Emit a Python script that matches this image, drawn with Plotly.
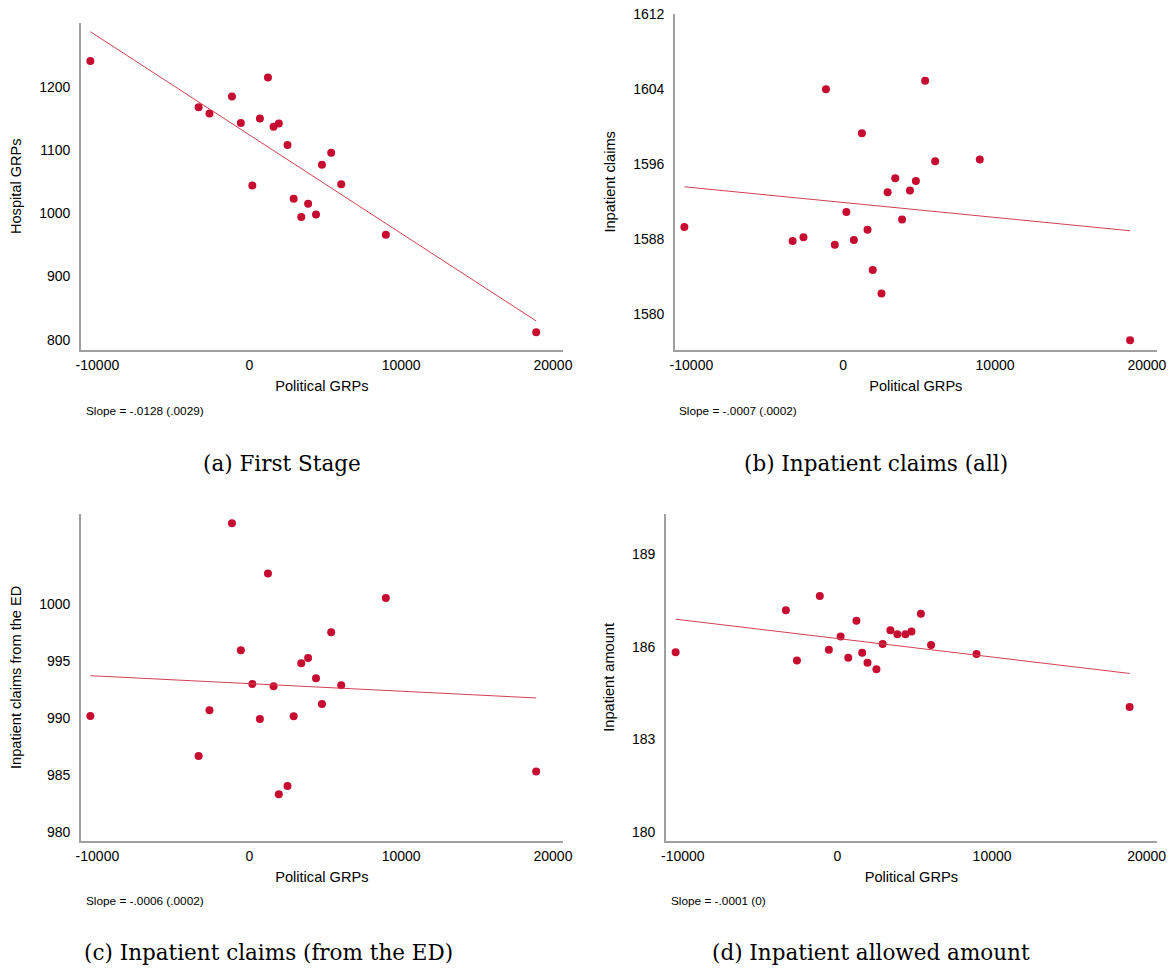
import plotly.graph_objects as go

# ---- data ----
political_grps = [-10465, -3335, -2620, -1140, -555, 205, 700, 1230, 1600, 1945,
                  2520, 2925, 3425, 3875, 4395, 4785, 5395, 6055, 8995, 18895]

hospital_grps = [1241, 1168, 1158, 1185, 1143, 1044, 1150, 1215, 1137, 1142,
                 1108, 1023, 994, 1015, 998, 1077, 1096, 1046, 966, 812]
inpatient_claims = [1589.3, 1587.8, 1588.2, 1604.0, 1587.4, 1590.9, 1587.9, 1599.3, 1589.0, 1584.7,
                    1582.2, 1593.0, 1594.5, 1590.1, 1593.2, 1594.2, 1604.9, 1596.3, 1596.5, 1577.2]
inpatient_claims_ed = [990.16, 986.66, 990.66, 1007.04, 995.91, 992.96, 989.90, 1002.63, 992.76, 983.30,
                       984.03, 990.13, 994.77, 995.24, 993.46, 991.21, 997.49, 992.85, 1000.50, 985.31]
inpatient_amount = [185.82, 187.18, 185.55, 187.64, 185.90, 186.33, 185.64, 186.84, 185.80, 185.48,
                    185.27, 186.09, 186.53, 186.40, 186.40, 186.49, 187.07, 186.05, 185.76, 184.04]

fit_intercepts = [1124.2, 1591.91, 992.995, 186.263]
fit_slopes = [-0.015589, -0.0001597, -0.0000664, -0.00005994]

y_titles = ["Hospital GRPs", "Inpatient claims", "Inpatient claims from the ED", "Inpatient amount"]
slope_labels = ["Slope = -.0128 (.0029)", "Slope = -.0007 (.0002)",
                "Slope = -.0006 (.0002)", "Slope = -.0001 (0)"]
captions = ["(a) First Stage", "(b) Inpatient claims (all)",
            "(c) Inpatient claims (from the ED)", "(d) Inpatient allowed amount"]
x_title = "Political GRPs"
x_ticks = [-10000, 0, 10000, 20000]
y_ticks = [[800, 900, 1000, 1100, 1200],
           [1580, 1588, 1596, 1604, 1612],
           [980, 985, 990, 995, 1000],
           [180, 183, 186, 189]]
y_ranges = [[784.2, 1301.6], [1576.2, 1612.02], [979.24, 1007.85], [179.71, 190.30]]
x_range = [-11075, 20635]

series = [hospital_grps, inpatient_claims, inpatient_claims_ed, inpatient_amount]

# ---- layout geometry (pixels) ----
W, H = 1172, 970
px_x = [(81.1, 562.6), (675.1, 1156.5), (81.1, 562.6), (666.2, 1156.5)]
px_y = [(22.7, 349.7), (14.0, 349.7), (514.0, 840.7), (514.0, 840.7)]
caption_pos = [(282, 463), (876, 463), (268, 952), (871, 952)]
slope_pos = [(83.5, 410.7), (677.4, 410.7), (83.5, 901), (668.5, 901)]

MARKER = "#C60C30"
LINE = "#D04050"
AXIS = "#A0A0A0"
TICKFONT = dict(family="Liberation Sans, Arial, sans-serif", size=14, color="#000000")
TITLEFONT = dict(family="Liberation Sans, Arial, sans-serif", size=14.6, color="#000000")

fig = go.Figure()
annotations = []
for i in range(4):
    sfx = "" if i == 0 else str(i + 1)
    xa, ya = "x" + sfx, "y" + sfx
    fig.add_trace(go.Scatter(x=political_grps, y=series[i], mode="markers",
                             marker=dict(color=MARKER, size=8, line=dict(width=0)),
                             xaxis=xa, yaxis=ya, showlegend=False, hoverinfo="x+y"))
    x0, x1 = min(political_grps), max(political_grps)
    fig.add_trace(go.Scatter(x=[x0, x1],
                             y=[fit_intercepts[i] + fit_slopes[i] * x0, fit_intercepts[i] + fit_slopes[i] * x1],
                             mode="lines", line=dict(color=LINE, width=1),
                             xaxis=xa, yaxis=ya, showlegend=False, hoverinfo="skip"))
    xd = [px_x[i][0] / W, px_x[i][1] / W]
    yd = [1 - px_y[i][1] / H, 1 - px_y[i][0] / H]
    fig.layout["xaxis" + sfx] = dict(
        domain=xd, range=x_range, tickvals=x_ticks, ticktext=[str(v) for v in x_ticks],
        showline=True, linecolor=AXIS, linewidth=2, showgrid=False, zeroline=False,
        ticks="", tickfont=TICKFONT, anchor=ya, ticklabelstandoff=1, automargin=False,
        title=dict(text=x_title, font=TITLEFONT, standoff=9))
    fig.layout["yaxis" + sfx] = dict(
        domain=yd, range=y_ranges[i], tickvals=y_ticks[i], ticktext=[str(v) for v in y_ticks[i]],
        showline=True, linecolor=AXIS, linewidth=2, showgrid=False, zeroline=False,
        ticks="", tickfont=TICKFONT, anchor=xa, ticklabelstandoff=6, automargin=False,
        title=dict(text=y_titles[i], font=TITLEFONT, standoff=14))
    annotations.append(dict(text=slope_labels[i], x=slope_pos[i][0] / W, y=1 - slope_pos[i][1] / H,
                            xref="paper", yref="paper", xanchor="left", yanchor="middle",
                            showarrow=False,
                            font=dict(family="Liberation Sans, Arial, sans-serif", size=11.8, color="#000000")))
    annotations.append(dict(text=captions[i], x=caption_pos[i][0] / W, y=1 - caption_pos[i][1] / H,
                            xref="paper", yref="paper", xanchor="center", yanchor="middle",
                            showarrow=False,
                            font=dict(family="DejaVu Serif, serif", size=21.5, color="#000000")))

fig.update_layout(width=W, height=H, margin=dict(l=0, r=0, t=0, b=0, autoexpand=False),
                  paper_bgcolor="white", plot_bgcolor="white",
                  annotations=annotations, showlegend=False)

fig.write_html("out.html", config=dict(displayModeBar=False),
               post_script="document.documentElement.style.margin='0';"
                           "document.body.style.margin='0';document.body.style.padding='0';"
                           "document.body.style.overflow='hidden';")
